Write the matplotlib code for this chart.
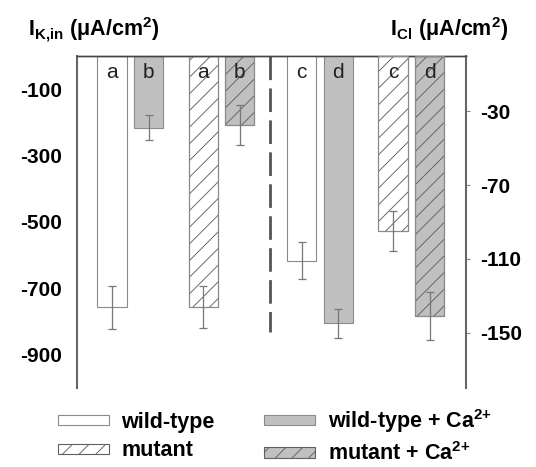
import matplotlib
matplotlib.use('Agg')
from matplotlib import pyplot as plt
from matplotlib.patches import Patch
from matplotlib.transforms import blended_transform_factory

plt.rcParams['font.family'] = 'Liberation Sans'
plt.rcParams['axes.unicode_minus'] = False
plt.rcParams['mathtext.fontset'] = 'custom'
plt.rcParams['mathtext.rm'] = 'Liberation Sans:bold'
plt.rcParams['mathtext.it'] = 'Liberation Sans:bold'
plt.rcParams['mathtext.bf'] = 'Liberation Sans:bold'
plt.rcParams['hatch.linewidth'] = 0.65

groups = ['wild-type', 'wild-type + Ca$^{2{+}}$', 'mutant', 'mutant + Ca$^{2{+}}$']
ik_mean = [-757, -216, -755, -207]
ik_err = [64, 38, 63, 60]
icl_mean = [-111, -145, -95, -141]
icl_err = [10, 8, 11, 13]
letters_k = ['a', 'b', 'a', 'b']
letters_cl = ['c', 'd', 'c', 'd']
ik_ticks = [-100, -300, -500, -700, -900]
icl_ticks = [-30, -70, -110, -150]

pos_k = [0, 1, 2.5, 3.5]
pos_cl = [5.2, 6.2, 7.7, 8.7]
fills = ['white', '#c0c0c0', 'white', '#c0c0c0']
hatches = [None, None, '//', '//']
edge = '#8a8a8a'
hatch_edge = '#606060'

fig = plt.figure(figsize=(5.36, 4.67), dpi=100)
ax = fig.add_axes([0.1437, 0.1692, 0.7257, 0.7109])
ax2 = ax.twinx()

def draw(a, pos, mean, err, letters):
    for x, m, e, f, h, l in zip(pos, mean, err, fills, hatches, letters):
        a.bar(x, m, width=0.8, color=f, edgecolor=hatch_edge if h else edge,
              hatch=h, linewidth=0.8, zorder=2)
        if h:
            a.bar(x, m, width=0.8, color='none', edgecolor=edge, linewidth=0.8, zorder=3)
        a.errorbar(x, m, yerr=e, fmt='none', ecolor='#777777', elinewidth=0.9,
                   capsize=2.8, capthick=0.9, zorder=4)
        tr = blended_transform_factory(a.transData, a.transAxes)
        a.text(x, 0.949, l, transform=tr, ha='center', va='center',
               fontsize=15, color='#222222', zorder=5)

draw(ax, pos_k, ik_mean, ik_err, letters_k)
draw(ax2, pos_cl, icl_mean, icl_err, letters_cl)

ax.plot([4.33, 4.33], [0, -830], color='#555555', lw=2.0, dashes=(8.5, 3), zorder=1)

ax.set_xlim(-0.96, 9.7)
ax.set_ylim(-1000, 0)
ax2.set_ylim(-180, 0)
ax.set_xticks([])
ax.set_yticks(ik_ticks)
ax2.set_yticks(icl_ticks)
ax.tick_params(axis='y', length=0, pad=11, labelsize=15)
ax2.tick_params(axis='y', length=3, width=0.8, color='#888888', pad=7, labelsize=15)
for t in ax.get_yticklabels() + ax2.get_yticklabels():
    t.set_fontweight('bold')

for a in (ax, ax2):
    a.spines['bottom'].set_visible(False)
    a.spines['top'].set_color('#444444')
    a.spines['top'].set_linewidth(1.0)
ax.spines['right'].set_visible(False)
ax.spines['left'].set_color('#666666')
ax.spines['left'].set_linewidth(1.5)
ax2.spines['left'].set_visible(False)
ax2.spines['right'].set_color('#666666')
ax2.spines['right'].set_linewidth(1.5)

fig.text(28 / 536, 1 - 36 / 467, r'$\mathbf{I_{K{,}in}\ (μA/cm^2)}$', fontsize=15.5,
         ha='left', va='baseline')
fig.text(390 / 536, 1 - 36 / 467, r'$\mathbf{I_{Cl}\ (μA/cm^2)}$', fontsize=15.5,
         ha='left', va='baseline')

handles = [Patch(facecolor=f, edgecolor=hatch_edge if h else edge, hatch=h, linewidth=0.8)
           for f, h in zip(fills, hatches)]
order = [0, 2, 1, 3]
fig.legend([handles[i] for i in order], [groups[i] for i in order], ncol=2,
           loc='center', bbox_to_anchor=(0.513, 1 - 436 / 467), frameon=False,
           prop={'weight': 'bold', 'size': 15.5}, handlelength=2.35, handleheight=0.35,
           handletextpad=0.6, columnspacing=2.3, labelspacing=0.36,
           borderpad=0.1)

fig.savefig('out.png', dpi=100)
